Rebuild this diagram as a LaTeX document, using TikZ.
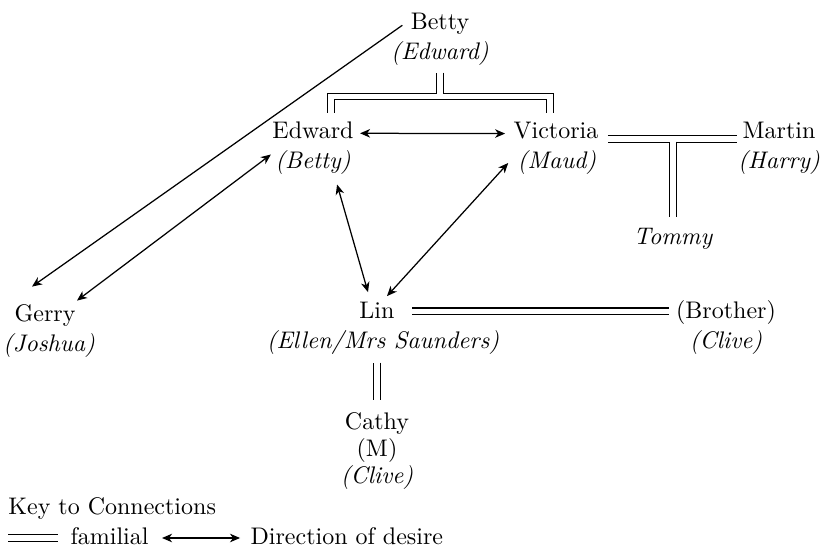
\documentclass[tikz,border=0pt]{standalone}
\usetikzlibrary{arrows.meta,calc}
\begin{document}
\begin{tikzpicture}[x=0.4pt,y=-0.4pt,
  person/.style={anchor=base,inner sep=0pt,font=\fontsize{9.6}{11}\selectfont},
  aka/.style={person,font=\fontsize{9.6}{11}\selectfont\itshape},
  fam/.style={double,double distance=2.1pt,line width=0.5pt},
  dtip/.tip={Stealth[length=4pt,width=3.4pt,inset=1.2pt]},
  desire/.style={line width=0.5pt,dtip-dtip},
  desireone/.style={line width=0.5pt,-dtip}]
\useasboundingbox (0,0) rectangle (821,553);

% people
\node[person] (betty) at (440,30) {Betty};
\node[aka] (bettyS) at (440,59) {(Edward)};
\node[person] (edward) at (313,138) {Edward};
\node[aka] (edwardS) at (313,168) {(Betty)};
\node[person] (victoria) at (556,138) {Victoria};
\node[aka] (victoriaS) at (557,168) {(Maud)};
\node[person] (martin) at (779,138) {Martin};
\node[aka] (martinS) at (779,168) {(Harry)};
\node[aka] (tommy) at (673,244) {Tommy};
\node[person] (gerry) at (45,321) {Gerry};
\node[aka] (gerryS) at (49,351) {(Joshua)};
\node[person] (lin) at (377,318) {Lin};
\node[aka] (linS) at (383,348) {(Ellen/Mrs Saunders)};
\node[person] (brother) at (726,318) {(Brother)};
\node[aka] (brotherS) at (726,348) {(Clive)};
\node[person] (cathy) at (377,429) {Cathy};
\node[person] (cathyM) at (377,456) {(M)};
\node[aka] (cathyS) at (377,483) {(Clive)};

% key
\node[person,anchor=base west] (key) at (8,514) {Key to Connections};
\node[person,anchor=base west] (famtxt) at (70,544) {familial};
\node[person,anchor=base west] (destxt) at ($(famtxt.base east)+(101,0)$) {Direction of desire};

% familial links
\coordinate (bj) at (440,96.5);
\draw[fam] ($(edward.north)+(18,-8)$) |- (bj) -| ($(victoria.north)+(-6,-8)$);
\draw[fam] ($(bettyS.south)+(0,7)$) -- ($(bj)+(0,-2.6)$);

\coordinate (vm) at ($(victoria.east)+(9,9)$);
\draw[fam] (vm) -- ($(vm -| martin.west)+(-5,0)$);
\draw[fam] ($(tommy.north |- vm)+(0,2.6)$) -- ($(tommy.north)+(0,-10)$);

\coordinate (lb) at ($(lin.east)+(17,1.5)$);
\draw[fam] (lb) -- ($(lb -| brother.west)+(-7,0)$);
\draw[fam] ($(lin.south)+(0,44)$) -- ($(cathy.north)+(0,-12)$);

% desire links
\draw[desireone] ($(betty.west)+(-8,1)$) -- ($(gerry.north)+(-13,-17)$);
\draw[desire] ($(edwardS.north west)+(-4,5)$) -- ($(gerry.north east)+(1,-3)$);
\draw[desire] ($(edward.east)+(6,3.5)$) -- ($(victoria.west)+(-8,3.5)$);
\draw[desire] ($(edwardS.south east)+(-14,10)$) -- ($(lin.north)+(-9,-9)$);
\draw[desire] ($(victoriaS.west)+(-9,1)$) -- ($(lin.north)+(10,-5)$);

% key symbols
\coordinate (k1) at (8,538);
\coordinate (k2) at ($(famtxt.base west)+(-12,-6)$);
\draw[fam] (k1) -- (k2);
\coordinate (k3) at ($(famtxt.base east)+(13,-6)$);
\coordinate (k4) at ($(famtxt.base east)+(91,-6)$);
\draw[desire] (k3) -- (k4);
\end{tikzpicture}
\end{document}
